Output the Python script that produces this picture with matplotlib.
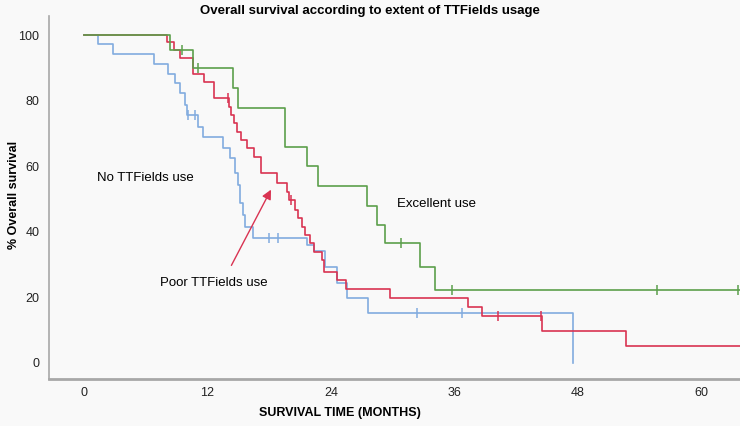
import numpy as np
import matplotlib
matplotlib.use("Agg")
import matplotlib.pyplot as plt

t_none = [0, 1.4, 2.8, 6.8, 8.2, 8.8, 9.3, 9.8, 10.0, 11.1, 11.6, 13.5, 14.2, 14.7, 15.0, 15.2,
          15.5, 15.6, 16.4, 21.7, 22.4, 23.4, 24.6, 25.6, 27.6, 47.5]
s_none = [100, 97.4, 94.1, 91.2, 88.2, 85.3, 82.4, 78.7, 75.6, 72.0, 69.0, 65.5, 62.5, 58.0, 54.3, 48.8,
          45.1, 41.5, 38.1, 36.0, 34.0, 29.3, 24.4, 19.8, 15.2, 0]
cens_none_t = [10.1, 10.8, 18.0, 18.9, 32.4, 36.7]
cens_none_s = [75.6, 75.6, 38.1, 38.1, 15.2, 15.2]

t_poor = [0, 8.1, 8.7, 9.3, 10.6, 11.7, 12.6, 14.1, 14.3, 14.6, 14.9, 15.3, 15.8, 16.5, 17.2, 18.8,
          19.7, 19.9, 20.5, 20.8, 21.2, 21.5, 22.0, 22.4, 23.1, 23.3, 24.6, 25.5, 29.7, 37.3, 38.7,
          44.5, 52.7, 63.75]
s_poor = [100, 97.9, 95.4, 93.0, 88.0, 85.7, 80.8, 78.1, 75.6, 73.1, 70.5, 68.0, 65.5, 62.9, 57.9, 54.9,
          52.1, 49.7, 46.6, 44.2, 41.5, 39.0, 36.6, 33.8, 31.4, 27.7, 25.3, 22.5, 19.8, 17.1, 14.3,
          9.8, 5.2, 5.2]
cens_poor_t = [14.0, 20.1, 40.2, 44.4]
cens_poor_s = [80.8, 49.7, 14.3, 14.3]

t_exc = [0, 8.4, 10.6, 14.5, 15.0, 19.5, 21.7, 22.7, 27.5, 28.5, 29.3, 32.7, 34.1, 63.75]
s_exc = [100, 95.4, 90.0, 84.0, 77.7, 65.9, 60.0, 54.0, 47.9, 42.0, 36.6, 29.3, 22.3, 22.3]
cens_exc_t = [9.5, 11.1, 30.8, 35.8, 55.7, 63.6]
cens_exc_s = [95.4, 90.0, 36.6, 22.3, 22.3, 22.3]

xticks = [0, 12, 24, 36, 48, 60]
yticks = [0, 20, 40, 60, 80, 100]

blu = "#82acdf"
rosso = "#d93352"
verde = "#5c9f4c"
sfondo = "#f9f9f9"
grigio = "#a8a8a8"

plt.rcParams['font.family'] = ['Liberation Sans', 'DejaVu Sans']

fig = plt.figure(figsize=(7.4, 4.26), dpi=100, facecolor=sfondo)
ax = fig.add_axes([0.0662, 0.1103, 0.9338, 0.8521])
ax.set_facecolor(sfondo)

ax.step(t_none, s_none, where='post', color=blu, linewidth=1.2)
ax.step(t_poor, s_poor, where='post', color=rosso, linewidth=1.2)
ax.step(t_exc, s_exc, where='post', color=verde, linewidth=1.2)

ax.plot(cens_none_t, cens_none_s, '|', color=blu, markersize=7, markeredgewidth=1.1)
ax.plot(cens_poor_t, cens_poor_s, '|', color=rosso, markersize=7, markeredgewidth=1.1)
ax.plot(cens_exc_t, cens_exc_s, '|', color=verde, markersize=7, markeredgewidth=1.1)

ax.set_xlim(-3.4, 63.75)
ax.set_ylim(-4.9, 105.8)
ax.set_xticks(xticks)
ax.set_yticks(yticks)
ax.tick_params(length=0, labelsize=9, colors='#222222')
ax.tick_params(axis='x', pad=6)
ax.tick_params(axis='y', pad=7)

ax.spines['top'].set_visible(False)
ax.spines['right'].set_visible(False)
ax.spines['left'].set_color(grigio)
ax.spines['left'].set_linewidth(1.2)
ax.spines['bottom'].set_color(grigio)
ax.spines['bottom'].set_linewidth(2)

# etichette dentro il grafico
ax.text(1.3, 56.4, "No TTFields use", fontsize=9.5, ha='left', va='center')
ax.text(30.4, 48.6, "Excellent use", fontsize=9.5, ha='left', va='center')
ax.text(7.4, 24.4, "Poor TTFields use", fontsize=9.5, ha='left', va='center')
ax.annotate("", xy=(18.3, 53.6), xytext=(14.2, 29.0),
            arrowprops=dict(arrowstyle='-|>', color=rosso, lw=1, mutation_scale=14))

fig.text(0.5, 0.975, "Overall survival according to extent of TTFields usage",
         ha='center', va='center', fontsize=9.5, fontweight='bold')
fig.text(0.46, 0.031, "SURVIVAL TIME (MONTHS)", ha='center', va='center', fontsize=9,
         fontweight='bold')
fig.text(0.019, 0.542, "% Overall survival", ha='center', va='center', rotation=90,
         fontsize=9, fontweight='bold')

plt.savefig("out.png", dpi=100, facecolor=sfondo)
